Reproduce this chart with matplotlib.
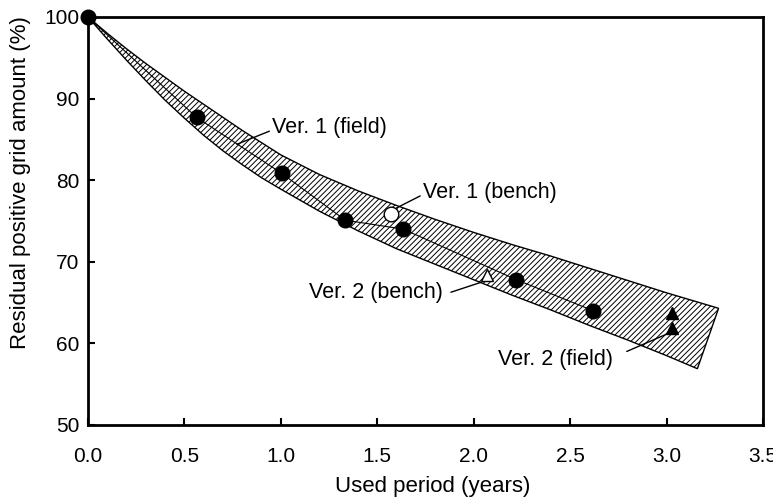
import numpy as np
import matplotlib
matplotlib.use("Agg")
import matplotlib.pyplot as plt

plt.rcParams['font.family'] = ['Liberation Sans', 'DejaVu Sans']
plt.rcParams['hatch.linewidth'] = 0.7

# Ver. 1 field measurements (filled circles)
field_x = [0.0, 0.563, 1.004, 1.334, 1.635, 2.222, 2.62]
field_y = [100.0, 87.7, 80.85, 75.1, 74.0, 67.8, 64.0]

# Ver. 1 bench (open circle), Ver. 2 bench (open triangle), Ver. 2 field (filled triangles)
bench1_x, bench1_y = [1.569], [75.9]
bench2_x, bench2_y = [2.067], [68.4]
field2_x, field2_y = [3.03, 3.03], [63.7, 61.9]

# scatter band limits
upper_x = [0.0, 0.1, 0.2, 0.3, 0.4, 0.5, 0.6, 0.7, 0.8, 0.9, 1.0, 1.2, 1.4, 1.6,
           1.8, 2.0, 2.2, 2.4, 2.6, 2.8, 3.0, 3.27]
upper_y = [100.0, 98.0, 96.1, 94.3, 92.6, 90.9, 89.3, 87.7, 86.1, 84.6, 83.1, 80.7,
           78.7, 76.9, 75.2, 73.6, 72.1, 70.7, 69.2, 67.7, 66.2, 64.3]
lower_x = [0.0, 0.1, 0.2, 0.3, 0.4, 0.5, 0.6, 0.7, 0.8, 0.9, 1.0, 1.2, 1.4, 1.6,
           1.8, 2.0, 2.2, 2.4, 2.6, 2.8, 3.0, 3.16]
lower_y = [100.0, 97.3, 94.7, 92.2, 89.8, 87.6, 85.5, 83.6, 81.9, 80.3, 78.9, 76.2,
           73.8, 71.6, 69.7, 67.8, 65.9, 64.1, 62.2, 60.4, 58.5, 56.9]

fig = plt.figure(figsize=(7.73, 4.98), dpi=100)
ax = fig.add_axes([0.1138, 0.1466, 0.8732, 0.8193])

band_x = upper_x + lower_x[::-1]
band_y = upper_y + lower_y[::-1]
ax.fill(band_x, band_y, facecolor='white', edgecolor='black', hatch='//////', lw=1.0, zorder=1)

ax.plot(field_x, field_y, color='black', lw=0.8, zorder=2)
ax.plot(field_x, field_y, 'o', color='black', ms=10.5, zorder=3, clip_on=False)
ax.plot(bench1_x, bench1_y, 'o', mfc='white', mec='black', mew=1.0, ms=10.5, zorder=3)
ax.plot(bench2_x, bench2_y, '^', mfc='white', mec='black', mew=1.0, ms=9, zorder=3)
ax.plot(field2_x, field2_y, '^', color='black', ms=9, zorder=3)

# labels with leader lines
fs = 15.5
ax.annotate('Ver. 1 (field)', xy=(0.772, 84.4), xytext=(0.955, 86.4),
            fontsize=fs, va='center', ha='left',
            arrowprops=dict(arrowstyle='-', color='black', lw=1.0, shrinkA=0, shrinkB=0,
                            relpos=(0, 0.4)))
ax.annotate('Ver. 1 (bench)', xy=(1.60, 76.6), xytext=(1.737, 78.5),
            fontsize=fs, va='center', ha='left',
            arrowprops=dict(arrowstyle='-', color='black', lw=1.0, shrinkA=0, shrinkB=0,
                            relpos=(0, 0.4)))
ax.annotate('Ver. 2 (bench)', xy=(2.04, 67.5), xytext=(1.84, 66.2),
            fontsize=fs, va='center', ha='right',
            arrowprops=dict(arrowstyle='-', color='black', lw=1.0, shrinkA=4, shrinkB=0,
                            relpos=(1, 0.4)))
ax.annotate('Ver. 2 (field)', xy=(3.017, 61.3), xytext=(2.72, 58.0),
            fontsize=fs, va='center', ha='right',
            arrowprops=dict(arrowstyle='-', color='black', lw=1.0, shrinkA=9, shrinkB=0,
                            relpos=(1, 0.6)))

ax.set_xlim(0, 3.5)
ax.set_ylim(50, 100)
ax.set_xticks(np.arange(0, 3.51, 0.5))
ax.set_xticklabels([f'{v:.1f}' for v in np.arange(0, 3.51, 0.5)])
ax.set_yticks(np.arange(50, 101, 10))
ax.tick_params(direction='in', length=5, width=1.5, labelsize=15)
ax.tick_params(axis='x', pad=16)
ax.tick_params(axis='y', pad=6)
for s in ax.spines.values():
    s.set_linewidth(2.0)

ax.set_xlabel('Used period (years)', fontsize=16)
ax.set_ylabel('Residual positive grid amount (%)', fontsize=16)
ax.xaxis.set_label_coords(0.51, -0.125)
ax.yaxis.set_label_coords(-0.085, 0.593)

fig.savefig('out.png', dpi=100)
